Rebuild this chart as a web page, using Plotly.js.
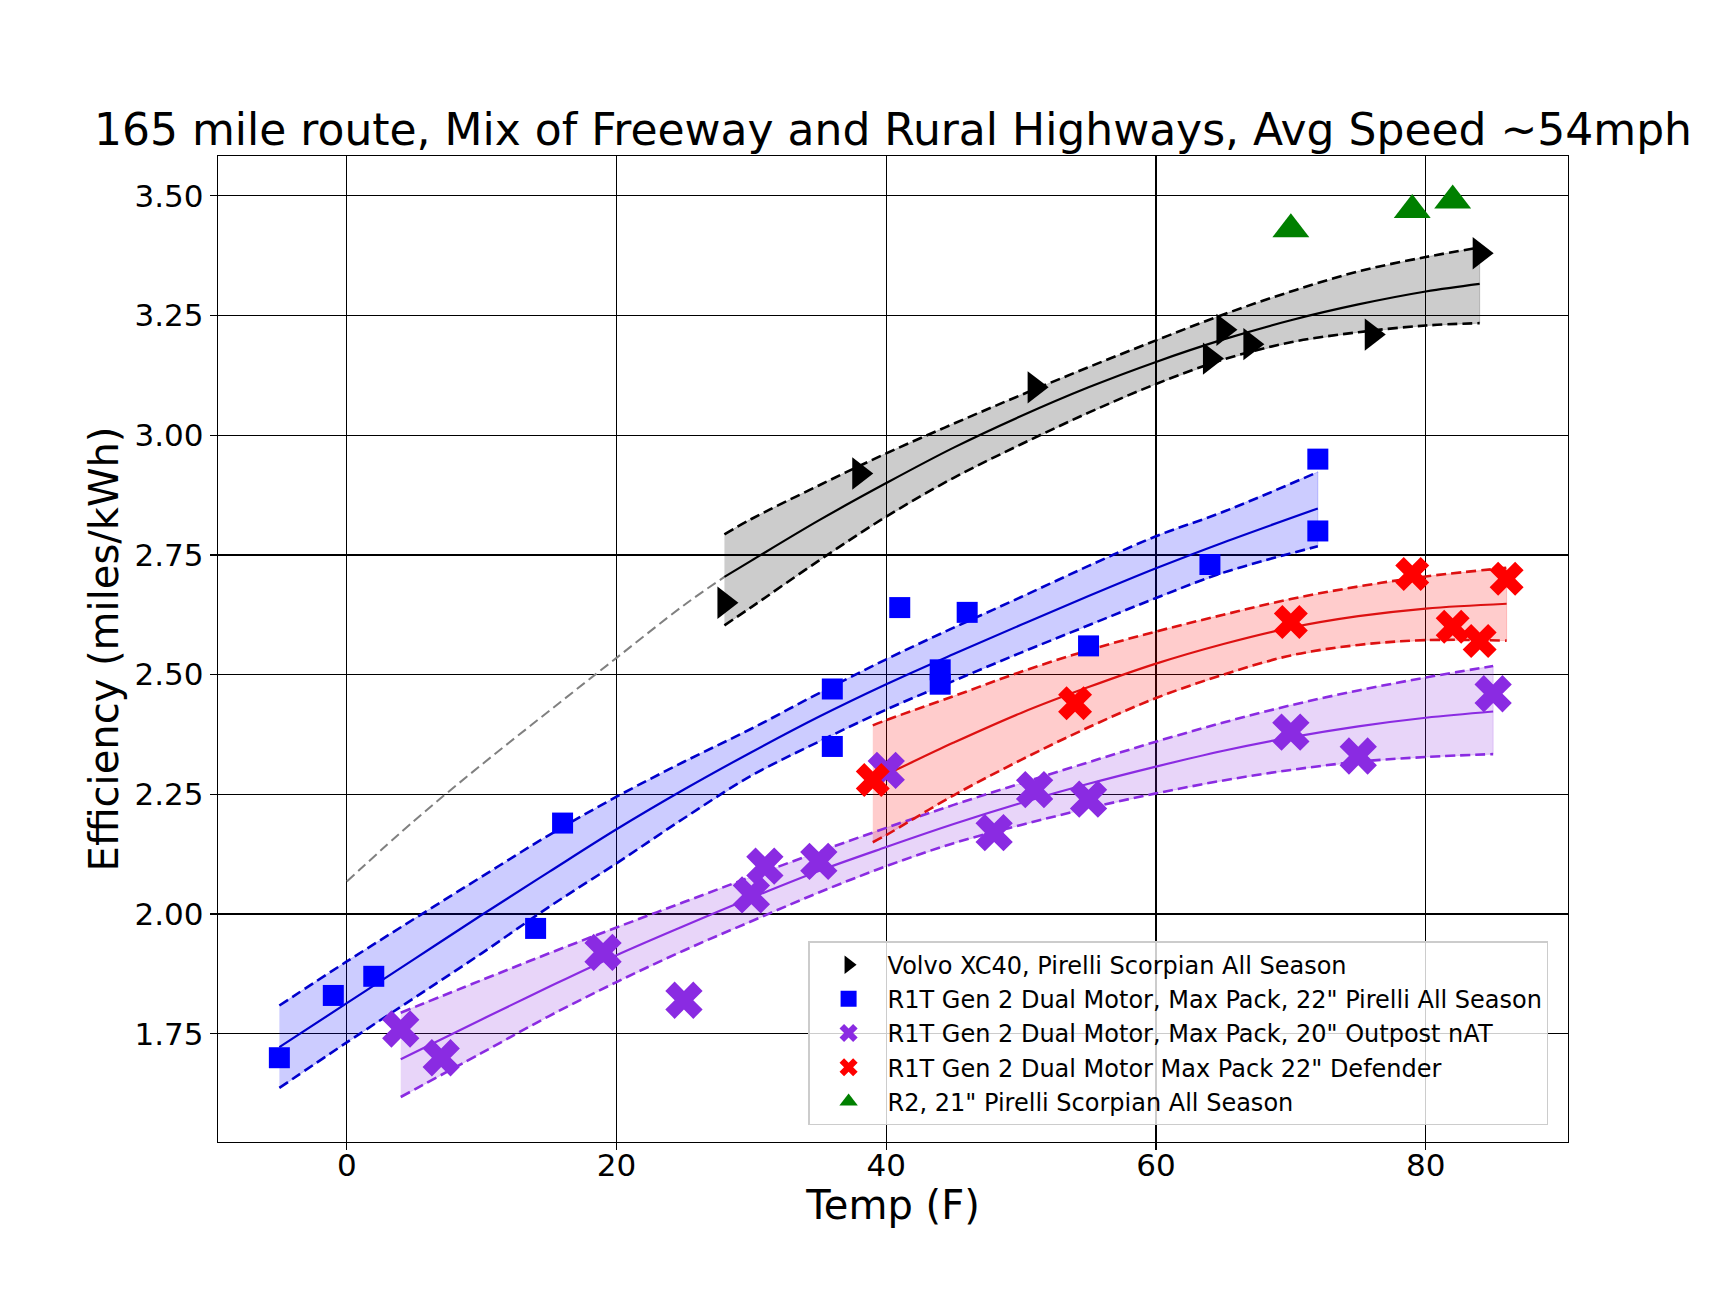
<!DOCTYPE html>
<html>
<head>
<meta charset="utf-8">
<script src="https://cdn.plot.ly/plotly-3.0.1.min.js"></script>
<style>html,body{margin:0;padding:0;background:#fff;}#chart{width:1733px;height:1300px;}</style>
</head>
<body>
<div id="chart"></div>
<script>
// ---- measured points ----
const volvoTemp = [28, 38, 51, 64, 65, 67, 76, 84];
const volvoEff  = [2.65, 2.92, 3.10, 3.16, 3.22, 3.19, 3.21, 3.38];

const r1t22Temp = [-5, -1, 2, 14, 16, 36, 36, 41, 44, 44, 46, 55, 64, 72, 72];
const r1t22Eff  = [1.70, 1.83, 1.87, 1.97, 2.19, 2.47, 2.35, 2.64, 2.51, 2.48, 2.63, 2.56, 2.73, 2.95, 2.80];

const r1t20Temp = [4, 7, 19, 25, 30, 31, 35, 40, 48, 51, 55, 70, 75, 85];
const r1t20Eff  = [1.76, 1.70, 1.92, 1.82, 2.04, 2.10, 2.11, 2.30, 2.17, 2.26, 2.24, 2.38, 2.33, 2.46];

const defTemp = [39, 54, 70, 79, 82, 84, 86];
const defEff  = [2.28, 2.44, 2.61, 2.71, 2.60, 2.57, 2.70];

const r2Temp = [70, 79, 82];
const r2Eff  = [3.43, 3.47, 3.49];

// ---- fitted curves and bands ----
const volvoFitX   = [28, 30, 35, 40, 45, 50, 55, 60, 65, 70, 75, 80, 84];
const volvoFitMid = [2.704, 2.738, 2.822, 2.900, 2.974, 3.040, 3.100, 3.153, 3.200, 3.240, 3.273, 3.300, 3.316];
const volvoFitHi  = [2.793, 2.825, 2.895, 2.962, 3.024, 3.084, 3.142, 3.198, 3.252, 3.300, 3.342, 3.372, 3.392];
const volvoFitLo  = [2.603, 2.641, 2.738, 2.830, 2.911, 2.981, 3.047, 3.107, 3.158, 3.194, 3.215, 3.229, 3.234];

const volvoExtX = [0, 5, 10, 15, 20, 25, 28];
const volvoExtY = [2.068, 2.195, 2.312, 2.424, 2.535, 2.645, 2.704];

const r1t22FitX   = [-5, 0, 5, 10, 15, 20, 25, 30, 35, 40, 45, 50, 55, 60, 65, 72];
const r1t22FitMid = [1.722, 1.814, 1.906, 1.998, 2.088, 2.177, 2.260, 2.338, 2.412, 2.480, 2.543, 2.604, 2.664, 2.722, 2.776, 2.847];
const r1t22FitHi  = [1.809, 1.901, 1.990, 2.078, 2.165, 2.245, 2.318, 2.387, 2.461, 2.532, 2.598, 2.662, 2.727, 2.789, 2.840, 2.923];
const r1t22FitLo  = [1.637, 1.732, 1.825, 1.918, 2.015, 2.106, 2.200, 2.289, 2.360, 2.427, 2.487, 2.546, 2.603, 2.660, 2.713, 2.768];

const r1t20FitX   = [4, 10, 15, 20, 25, 30, 35, 40, 45, 50, 55, 60, 65, 70, 75, 80, 85];
const r1t20FitMid = [1.697, 1.780, 1.848, 1.914, 1.975, 2.034, 2.090, 2.140, 2.188, 2.232, 2.272, 2.308, 2.341, 2.369, 2.392, 2.410, 2.423];
const r1t20FitHi  = [1.794, 1.862, 1.918, 1.972, 2.025, 2.078, 2.130, 2.180, 2.228, 2.273, 2.317, 2.360, 2.400, 2.436, 2.467, 2.494, 2.518];
const r1t20FitLo  = [1.618, 1.710, 1.787, 1.858, 1.924, 1.985, 2.045, 2.100, 2.148, 2.186, 2.221, 2.252, 2.279, 2.301, 2.318, 2.328, 2.334];

const defFitX   = [39, 40, 45, 50, 55, 60, 65, 70, 75, 80, 86];
const defFitMid = [2.281, 2.292, 2.358, 2.420, 2.474, 2.523, 2.564, 2.598, 2.622, 2.638, 2.648];
const defFitHi  = [2.394, 2.405, 2.455, 2.506, 2.551, 2.590, 2.625, 2.658, 2.684, 2.705, 2.723];
const defFitLo  = [2.150, 2.165, 2.248, 2.322, 2.390, 2.451, 2.500, 2.540, 2.562, 2.572, 2.571];

const seriesNames = [
  'Volvo XC40, Pirelli Scorpian All Season',
  'R1T Gen 2 Dual Motor, Max Pack, 22" Pirelli All Season',
  'R1T Gen 2 Dual Motor, Max Pack, 20" Outpost nAT',
  'R1T Gen 2 Dual Motor Max Pack 22" Defender',
  'R2, 21" Pirelli Scorpian All Season'
];
const yTicks = [1.75, 2.00, 2.25, 2.50, 2.75, 3.00, 3.25, 3.50];
const xTicks = [0, 20, 40, 60, 80];

// ---- helpers ----
function band(xs, hi, lo, fill) {
  return {
    x: xs.concat(xs.slice().reverse()),
    y: hi.concat(lo.slice().reverse()),
    type: 'scatter', mode: 'lines', fill: 'toself', fillcolor: fill,
    line: {color: fill, width: 1}, hoverinfo: 'skip', showlegend: false
  };
}
function curve(xs, ys, color, width, dash) {
  return {
    x: xs, y: ys, type: 'scatter', mode: 'lines',
    line: {color: color, width: width, dash: dash || 'solid', shape: 'spline', smoothing: 1},
    hoverinfo: 'skip', showlegend: false
  };
}
function points(xs, ys, name, symbol, size, color) {
  return {
    x: xs, y: ys, type: 'scatter', mode: 'markers', name: name,
    marker: {symbol: symbol, size: size, color: color, line: {width: 0}}
  };
}

const DASH = '10px,5px';
const traces = [
  band(volvoFitX, volvoFitHi, volvoFitLo, 'rgba(0,0,0,0.2)'),
  band(r1t22FitX, r1t22FitHi, r1t22FitLo, 'rgba(0,0,255,0.2)'),
  band(r1t20FitX, r1t20FitHi, r1t20FitLo, 'rgba(138,43,226,0.2)'),
  band(defFitX, defFitHi, defFitLo, 'rgba(255,0,0,0.2)'),
  curve(volvoExtX, volvoExtY, '#808080', 2, DASH),
  curve(volvoFitX, volvoFitMid, '#000000', 2.2),
  curve(volvoFitX, volvoFitHi, '#000000', 2.6, DASH),
  curve(volvoFitX, volvoFitLo, '#000000', 2.6, DASH),
  curve(r1t22FitX, r1t22FitMid, '#0000cc', 2.2),
  curve(r1t22FitX, r1t22FitHi, '#0000cc', 2.6, DASH),
  curve(r1t22FitX, r1t22FitLo, '#0000cc', 2.6, DASH),
  curve(r1t20FitX, r1t20FitMid, '#8a2be2', 2.2),
  curve(r1t20FitX, r1t20FitHi, '#8a2be2', 2.6, DASH),
  curve(r1t20FitX, r1t20FitLo, '#8a2be2', 2.6, DASH),
  curve(defFitX, defFitMid, '#dd1111', 2.2),
  curve(defFitX, defFitHi, '#dd1111', 2.6, DASH),
  curve(defFitX, defFitLo, '#dd1111', 2.6, DASH),
  points(volvoTemp, volvoEff, seriesNames[0], 'triangle-right', 28, '#000000'),
  points(r1t22Temp, r1t22Eff, seriesNames[1], 'square', 21, '#0000ff'),
  points(r1t20Temp, r1t20Eff, seriesNames[2], 'x', 33, '#8a2be2'),
  points(defTemp, defEff, seriesNames[3], 'x', 30, '#ff0000'),
  points(r2Temp, r2Eff, seriesNames[4], 'triangle-up', 32, '#008000')
];

const axisCommon = {
  showline: true, mirror: true, linecolor: '#000', linewidth: 1.3,
  showgrid: true, gridcolor: '#000', gridwidth: 1.2,
  zeroline: false, ticks: 'outside', ticklen: 7, tickwidth: 1.3, tickcolor: '#000',
  tickfont: {family: 'DejaVu Sans', size: 31, color: '#000'}
};

const layout = {
  width: 1733, height: 1300,
  margin: {l: 218, r: 165, t: 156, b: 158},
  paper_bgcolor: '#fff', plot_bgcolor: '#fff',
  font: {family: 'DejaVu Sans', color: '#000'},
  title: {
    text: '165 mile route, Mix of Freeway and Rural Highways, Avg Speed ~54mph',
    font: {family: 'DejaVu Sans', size: 44, color: '#000'},
    xref: 'paper', x: 0.5, xanchor: 'center',
    yref: 'container', y: 0.9, yanchor: 'middle'
  },
  xaxis: Object.assign({}, axisCommon, {
    range: [-9.55, 90.55], tickvals: xTicks, ticktext: xTicks.map(String),
    ticklabelstandoff: -12,
    title: {text: 'Temp (F)', font: {family: 'DejaVu Sans', size: 40, color: '#000'}, standoff: 9}
  }),
  yaxis: Object.assign({}, axisCommon, {
    range: [1.524, 3.583], tickvals: yTicks, ticktext: yTicks.map(v => v.toFixed(2)),
    title: {text: 'Efficiency (miles/kWh)', font: {family: 'DejaVu Sans', size: 40, color: '#000'}, standoff: 3}
  }),
  showlegend: true,
  legend: {
    x: 0.9854, xanchor: 'right', y: 0.017, yanchor: 'bottom',
    bgcolor: 'rgba(255,255,255,0.8)', bordercolor: '#cccccc', borderwidth: 1.3,
    font: {family: 'DejaVu Sans', size: 24, color: '#000'},
    itemwidth: 68, tracegroupgap: 0
  }
};

Plotly.newPlot('chart', traces, layout, {displayModeBar: false, staticPlot: true});
</script>
</body>
</html>
